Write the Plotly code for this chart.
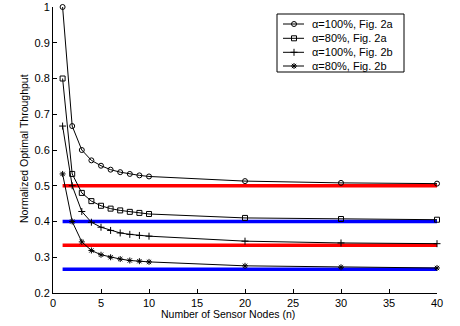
import plotly.graph_objects as go

n_nodes = [1, 2, 3, 4, 5, 6, 7, 8, 9, 10, 20, 30, 40]
a100_fig2a = [1.0, 0.667, 0.600, 0.571, 0.556, 0.545, 0.538, 0.533, 0.529, 0.526, 0.513, 0.508, 0.506]
a80_fig2a = [0.8, 0.533, 0.480, 0.457, 0.444, 0.436, 0.431, 0.427, 0.424, 0.421, 0.410, 0.407, 0.405]
a100_fig2b = [0.667, 0.500, 0.428, 0.398, 0.384, 0.375, 0.368, 0.364, 0.361, 0.359, 0.345, 0.340, 0.338]
a80_fig2b = [0.533, 0.400, 0.343, 0.319, 0.307, 0.300, 0.295, 0.291, 0.289, 0.287, 0.276, 0.272, 0.270]

ref_x = [1, 40]
ref_levels = [0.5, 0.4, 0.3333, 0.2667]
ref_colors = ["#ff0000", "#0000ff", "#ff0000", "#0000ff"]

series_names = ["α=100%, Fig. 2a", "α=80%, Fig. 2a", "α=100%, Fig. 2b", "α=80%, Fig. 2b"]
series_vals = [a100_fig2a, a80_fig2a, a100_fig2b, a80_fig2b]
series_symbols = ["circle-open", "square-open", "cross-thin-open", "asterisk-open"]

x_ticks = [0, 5, 10, 15, 20, 25, 30, 35, 40]
y_ticks = [0.2, 0.3, 0.4, 0.5, 0.6, 0.7, 0.8, 0.9, 1.0]
y_ticktext = ["0.2", "0.3", "0.4", "0.5", "0.6", "0.7", "0.8", "0.9", "1"]

x_title = "Number of Sensor Nodes (n)"
y_title = "Normalized Optimal Throughput"

FAM = "Liberation Sans, Arial, sans-serif"
W, H = 460, 326
ML, MR, MT, MB = 53, 23, 7, 33
PW, PH = W - ML - MR, H - MT - MB

fig = go.Figure()

for lvl, col in zip(ref_levels, ref_colors):
    fig.add_trace(go.Scatter(x=ref_x, y=[lvl, lvl], mode="lines",
                             line=dict(color=col, width=3.5),
                             showlegend=False, hoverinfo="skip"))

for name, vals, sym in zip(series_names, series_vals, series_symbols):
    fig.add_trace(go.Scatter(x=n_nodes, y=vals, mode="lines+markers", name=name,
                             line=dict(color="black", width=1),
                             marker=dict(symbol=sym, size=5, color="black",
                                         line=dict(color="black", width=1)),
                             cliponaxis=False, showlegend=False))

# custom compact legend (overlay axes in pixel units of the plot area)
def px(x):
    return x - ML

def py(y):
    return MT + PH - y

legend_rows = [24, 38.3, 52.3, 66]
box = dict(left=277, right=404, top=14, bottom=72)
fig.add_shape(type="rect", xref="x2", yref="y2",
              x0=px(box["left"]), x1=px(box["right"]),
              y0=py(box["bottom"]), y1=py(box["top"]),
              line=dict(color="black", width=1), fillcolor="rgba(0,0,0,0)", layer="above")
for name, sym, ry in zip(series_names, series_symbols, legend_rows):
    fig.add_trace(go.Scatter(x=[px(283), px(304)], y=[py(ry), py(ry)], xaxis="x2", yaxis="y2",
                             mode="lines", line=dict(color="black", width=1),
                             showlegend=False, hoverinfo="skip"))
    fig.add_trace(go.Scatter(x=[px(294)], y=[py(ry)], xaxis="x2", yaxis="y2",
                             mode="markers",
                             marker=dict(symbol=sym, size=5, color="black",
                                         line=dict(color="black", width=1)),
                             showlegend=False, hoverinfo="skip"))
    fig.add_annotation(x=px(310), y=py(ry), xref="x2", yref="y2", text=name,
                       showarrow=False, xanchor="left", yanchor="middle",
                       font=dict(family=FAM, size=11, color="black"))

font = dict(family=FAM, size=11, color="black")
tfont = dict(family=FAM, size=10.5, color="black")

# axis titles as annotations (paper coords)
fig.add_annotation(x=(227.5 - ML) / PW, y=-(313.5 - MT - PH) / PH, xref="paper", yref="paper",
                   text=x_title, showarrow=False, xanchor="center", yanchor="middle", font=tfont)
fig.add_annotation(x=(24 - ML) / PW, y=(MT + PH - 149) / PH, xref="paper", yref="paper",
                   text=y_title, showarrow=False, textangle=-90,
                   xanchor="center", yanchor="middle", font=tfont)

fig.update_layout(
    width=W, height=H,
    margin=dict(l=ML, r=MR, t=MT, b=MB),
    paper_bgcolor="white", plot_bgcolor="white",
    font=font, showlegend=False,
    xaxis=dict(range=[0, 40], tickvals=x_ticks, ticks="inside", ticklen=4,
               tickcolor="black", showline=True, linecolor="black", linewidth=1,
               showgrid=False, zeroline=False, mirror=False, automargin=False,
               tickfont=font),
    yaxis=dict(range=[0.2, 1.0], tickvals=y_ticks, ticktext=y_ticktext, ticks="inside",
               ticklen=4, tickcolor="black", showline=True, linecolor="black", linewidth=1,
               showgrid=False, zeroline=False, mirror=False, automargin=False,
               tickfont=font),
    xaxis2=dict(overlaying="x", range=[0, PW], visible=False, fixedrange=True),
    yaxis2=dict(overlaying="y", range=[0, PH], visible=False, fixedrange=True, anchor="x2"),
)

fig.write_html("out.html",
               config={"displayModeBar": False},
               post_script="document.body.style.margin='0';document.body.style.padding='0';"
                           "document.body.style.overflow='hidden';")
